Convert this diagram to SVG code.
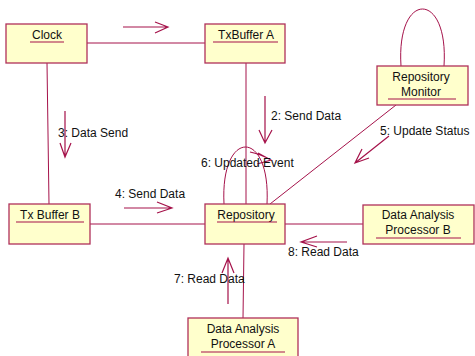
<svg xmlns="http://www.w3.org/2000/svg" width="475" height="356" viewBox="0 0 475 356">
  <style>
    .box { fill: #ffffcc; stroke: #b0305a; stroke-width: 1.3; }
    .link { fill: none; stroke: #a5124a; stroke-width: 1; }
    .msg { fill: none; stroke: #a5124a; stroke-width: 1.2; }
    .ul { stroke: #a5124a; stroke-width: 1.2; }
    text { font-family: "Liberation Sans", Arial, sans-serif; font-size: 12px; fill: #111; }
    .c { text-anchor: middle; }
  </style>
  <rect width="475" height="356" fill="#ffffff"/>

  <!-- links between objects -->
  <g id="connectors">
    <line class="link" x1="87" y1="43" x2="205" y2="43"/>
    <line class="link" x1="47" y1="63" x2="49" y2="204"/>
    <line class="link" x1="246" y1="63" x2="246" y2="204"/>
    <line class="link" x1="90" y1="224" x2="205" y2="224"/>
    <line class="link" x1="285" y1="224" x2="363" y2="224"/>
    <line class="link" x1="244" y1="244" x2="243" y2="318"/>
    <line class="link" x1="396" y1="105" x2="270" y2="204"/>
    <path class="link" d="M401,66 C396,-10 449,-10 444,66"/>
    <path class="link" d="M224,204 C220,128 271,128 267,204"/>

    <!-- message arrows -->
    <path class="msg" d="M123,27 H168 M155,22 L168,27 L155,33"/>
    <path class="msg" d="M265,96 V143 M259,130 L265,143 L272,130"/>
    <path class="msg" d="M65,111 V157 M60,143 L65,157 L71,143"/>
    <path class="msg" d="M389,136 L355,163 M369,158 L355,163 L362,149"/>
    <path class="msg" d="M250,152 Q260,154 271,160 M258,153 L271,160 L257,164"/>
    <path class="msg" d="M124,208 H172 M157,202 L172,208 L157,213"/>
    <path class="msg" d="M347,242 H301 M317,236 L301,242 L317,247"/>
    <path class="msg" d="M228,304 V258 M222,273 L228,258 L234,273"/>

    <text x="271" y="120">2: Send Data</text>
    <text x="58" y="137">3: Data Send</text>
    <text x="115" y="198">4: Send Data</text>
    <text x="380" y="135">5: Update Status</text>
    <text x="201" y="167">6: Updated Event</text>
    <text x="174" y="283">7: Read Data</text>
    <text x="288" y="256">8: Read Data</text>
  </g>

  <g id="clock">
    <rect class="box" x="6" y="24" width="81" height="39"/>
    <text class="c" x="47" y="39">Clock</text>
    <line class="ul" x1="30" y1="42" x2="64" y2="42"/>
  </g>

  <g id="txbuffer-a">
    <rect class="box" x="205" y="24" width="80" height="39"/>
    <text class="c" x="246" y="39">TxBuffer A</text>
    <line class="ul" x1="213" y1="42" x2="278" y2="42"/>
  </g>

  <g id="repository-monitor">
    <rect class="box" x="377" y="66" width="91" height="39"/>
    <text class="c" x="421" y="81">Repository</text>
    <text class="c" x="421" y="96">Monitor</text>
    <line class="ul" x1="388" y1="99" x2="456" y2="99"/>
  </g>

  <g id="tx-buffer-b">
    <rect class="box" x="9" y="204" width="81" height="40"/>
    <text class="c" x="50" y="219">Tx Buffer B</text>
    <line class="ul" x1="16" y1="222" x2="84" y2="222"/>
  </g>

  <g id="repository">
    <rect class="box" x="205" y="204" width="80" height="40"/>
    <text class="c" x="246" y="219">Repository</text>
    <line class="ul" x1="217" y1="222" x2="277" y2="222"/>
  </g>

  <g id="processor-b">
    <rect class="box" x="363" y="205" width="111" height="39"/>
    <text class="c" x="418" y="219">Data Analysis</text>
    <text class="c" x="418" y="234">Processor B</text>
    <line class="ul" x1="376" y1="238" x2="461" y2="238"/>
  </g>

  <g id="processor-a">
    <rect class="box" x="188" y="318" width="110" height="40"/>
    <text class="c" x="243" y="333">Data Analysis</text>
    <text class="c" x="243" y="348">Processor A</text>
    <line class="ul" x1="201" y1="352" x2="285" y2="352"/>
  </g>
</svg>
